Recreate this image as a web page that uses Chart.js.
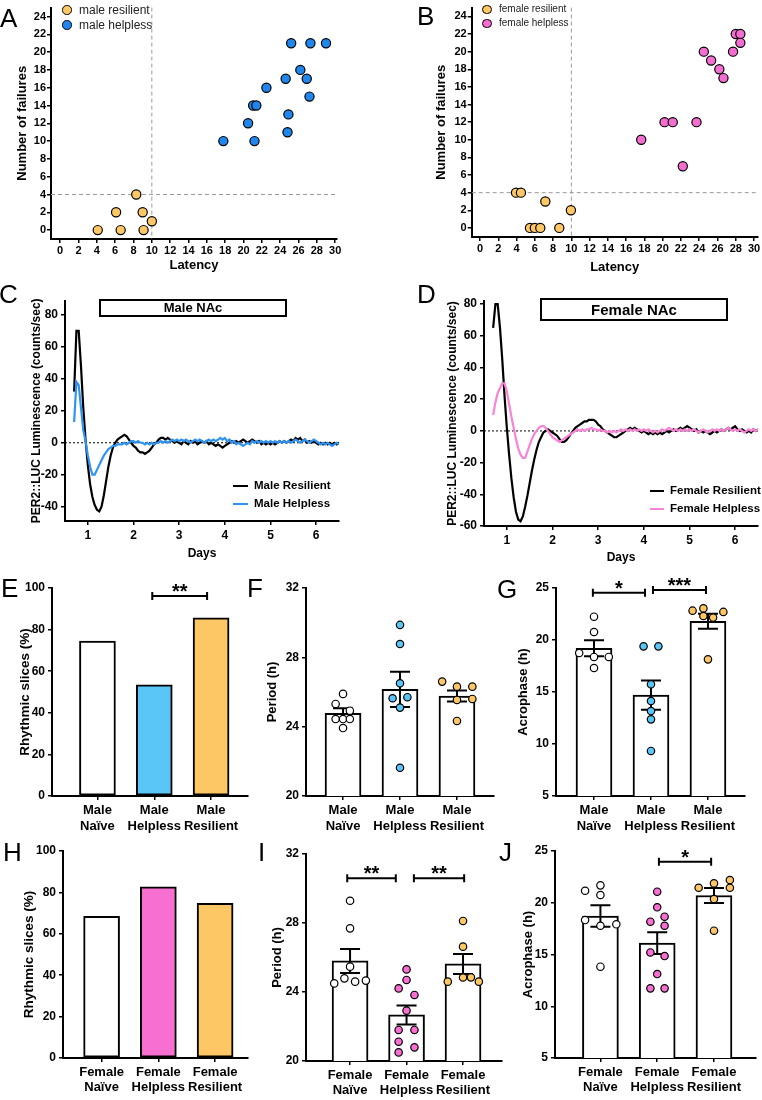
<!DOCTYPE html>
<html>
<head>
<meta charset="utf-8">
<script src="https://cdn.jsdelivr.net/npm/chart.js@4.4.0/dist/chart.umd.min.js"></script>
<style>
  body { margin: 0; background: #fff; }
  #fig { position: relative; width: 762px; height: 1100px; overflow: hidden; }
  #fig canvas { position: absolute; }
</style>
</head>
<body>
<div id="fig">
  <canvas id="cA" width="381" height="280" style="left:0;top:0"></canvas>
  <canvas id="cB" width="381" height="280" style="left:381px;top:0"></canvas>
  <canvas id="cC" width="381" height="295" style="left:0;top:270px"></canvas>
  <canvas id="cD" width="381" height="300" style="left:381px;top:270px"></canvas>
  <canvas id="cE" width="254" height="280" style="left:0;top:560px"></canvas>
  <canvas id="cF" width="254" height="280" style="left:254px;top:560px"></canvas>
  <canvas id="cG" width="254" height="280" style="left:508px;top:560px"></canvas>
  <canvas id="cH" width="254" height="260" style="left:0;top:840px"></canvas>
  <canvas id="cI" width="254" height="260" style="left:254px;top:840px"></canvas>
  <canvas id="cJ" width="254" height="260" style="left:508px;top:840px"></canvas>
</div>
<script>
// ---- data: learned helplessness scatter (A, B) ----
const latencyTicks = [0, 2, 4, 6, 8, 10, 12, 14, 16, 18, 20, 22, 24, 26, 28, 30];
const failureTicks = [0, 2, 4, 6, 8, 10, 12, 14, 16, 18, 20, 22, 24];
const latencyCutoff = 10;
const failureCutoff = 4;

const maleResLatency = [4.1, 6.1, 6.6, 8.3, 9.0, 9.1, 10.0];
const maleResFailures = [0, 2, 0, 4, 2, 0, 1];
const maleHelLatency = [17.8, 20.5, 21.05, 21.4, 21.2, 22.5, 24.6, 24.8, 24.9, 25.2, 26.2, 26.9, 27.2, 27.3, 29.0];
const maleHelFailures = [10, 12, 14, 14, 10, 16, 17, 11, 13, 21, 18, 17, 15, 21, 21];

const femResLatency = [3.94, 4.48, 7.15, 9.95, 5.47, 6.0, 6.6, 8.68];
const femResFailures = [4, 4, 3, 2, 0, 0, 0, 0];
const femHelLatency = [17.65, 20.2, 21.1, 22.2, 23.7, 24.5, 25.3, 26.2, 26.65, 27.7, 28.0, 28.5, 28.5];
const femHelFailures = [10, 12, 12, 7, 12, 20, 19, 18, 17, 20, 22, 22, 21];

// ---- data: PER2::LUC traces (C, D) ----
const dayTicks = [1, 2, 3, 4, 5, 6];
const lumTicksMale = [-40, -20, 0, 20, 40, 60, 80];
const lumTicksFemale = [-60, -40, -20, 0, 20, 40, 60, 80];
const days = [
  0.70, 0.75, 0.80, 0.85, 0.90, 0.95, 1.00, 1.05, 1.10, 1.15, 1.20, 1.25, 1.30, 1.35, 1.40, 1.45, 1.50, 1.55, 1.60, 1.65,
  1.70, 1.75, 1.80, 1.85, 1.90, 1.95, 2.00, 2.05, 2.10, 2.15, 2.20, 2.25, 2.30, 2.35, 2.40, 2.45, 2.50, 2.55, 2.60, 2.65,
  2.70, 2.75, 2.80, 2.85, 2.90, 2.95, 3.00, 3.05, 3.10, 3.15, 3.20, 3.25, 3.30, 3.35, 3.40, 3.45, 3.50, 3.55, 3.60, 3.65,
  3.70, 3.75, 3.80, 3.85, 3.90, 3.95, 4.00, 4.05, 4.10, 4.15, 4.20, 4.25, 4.30, 4.35, 4.40, 4.45, 4.50, 4.55, 4.60, 4.65,
  4.70, 4.75, 4.80, 4.85, 4.90, 4.95, 5.00, 5.05, 5.10, 5.15, 5.20, 5.25, 5.30, 5.35, 5.40, 5.45, 5.50, 5.55, 5.60, 5.65,
  5.70, 5.75, 5.80, 5.85, 5.90, 5.95, 6.00, 6.05, 6.10, 6.15, 6.20, 6.25, 6.30, 6.35, 6.40, 6.45, 6.50
];
const maleResilientLum = [
  32, 70, 70, 48, 22, 2, -14, -26, -34, -39, -42, -43, -40, -33, -24, -15, -8, -3, 0, 2,
  3, 4, 5, 4, 2, 0, -2, -3, -5, -6, -6, -7, -6, -5, -3, -1, 0, 2, 3, 3,
  2, 3, 2, 1, 0, 1, 0, -1, 1, 0, -1, 1, 0, 1, -1, 0, 1, 0, 1, -1,
  0, -1, -2, -1, -2, -3, -2, -1, 0, 1, 0, 1, 0, 1, 2, 1, 0, 1, 2, 1,
  0, 1, -1, 0, -1, 0, -1, 0, -1, 0, 1, 0, 1, 0, 1, 2, 1, 3, 2, 3,
  1, 2, 0, 1, 0, 1, 0, -1, 0, -1, 0, -1, 0, -1, 0, -1, 0
];
const maleHelplessLum = [
  13, 38, 36, 22, 8, 1, -8, -15, -20, -20, -17, -14, -11, -8, -6, -4, -3, -2, -2, -1,
  -1, -1, 0, -1, 0, 1, 1, 0, 1, 0, 0, -1, 0, -1, 0, -1, 0, 0, 1, 0,
  1, 0, 1, 2, 1, 2, 1, 2, 1, 2, 1, 0, 1, 2, 1, 2, 1, 0, 1, 2,
  1, 2, 1, 2, 3, 2, 3, 1, 2, 0, 1, -1, 0, -1, -2, -1, 0, -1, 1, 0,
  1, 0, 1, 0, 1, 0, 1, 0, 1, 0, 1, 0, 1, 0, 1, 0, 1, 2, 1, 0,
  1, 2, 1, 0, 1, 2, 1, 0, -1, 0, -1, 0, -1, -2, -1, 0, -1
];
const femaleResilientLum = [
  65, 80, 80, 65, 45, 22, 2, -15, -30, -42, -51, -56, -57, -54, -48, -41, -33, -25, -18, -12,
  -7, -4, -1, 0, 1, 0, -1, -2, -3, -5, -7, -7, -6, -4, -2, 0, 2, 3, 4, 5,
  6, 6, 7, 7, 7, 6, 4, 3, 1, 0, -1, -2, -3, -4, -4, -3, -2, -1, 0, 1,
  2, 1, 2, 1, 0, -1, 0, -1, -2, -1, -2, -1, -2, -1, -2, -1, 0, -1, 0, 1,
  0, 1, 2, 1, 2, 3, 2, 1, 0, 1, -1, 0, -1, 0, -1, -2, -1, 0, -1, 0,
  1, 0, 1, 2, 1, 2, 3, 1, 0, 1, 0, -1, 0, -1, 1, 0, 1
];
const femaleHelplessLum = [
  10, 18, 24, 27, 30, 30, 25, 17, 9, 2, -5, -11, -15, -17, -17, -13, -9, -5, -2, 0,
  2, 3, 3, 2, 0, -2, -4, -5, -6, -7, -6, -5, -4, -3, -2, -1, 0, 1, 0, 1,
  0, 1, 1, 2, 1, 1, 0, 1, 0, 0, -1, 0, -1, 0, -1, 0, 1, 0, 1, 0,
  1, 0, 1, 0, 1, 0, 1, 0, 1, 0, -1, 0, -1, 0, 1, 0, 1, 2, 1, 0,
  1, 0, 1, 0, 1, 0, 1, 0, 1, 0, -1, 0, 1, 0, -1, 0, 1, 0, 1, 0,
  1, 0, 1, 2, 1, 0, 1, 0, 1, 0, -1, 0, 1, 0, 1, 0, 1
];

// ---- data: rhythm summaries (E-J) ----
const maleGroups = [['Male', 'Naïve'], ['Male', 'Helpless'], ['Male', 'Resilient']];
const femaleGroups = [['Female', 'Naïve'], ['Female', 'Helpless'], ['Female', 'Resilient']];
const pctTicks = [0, 20, 40, 60, 80, 100];
const periodTicks = [20, 24, 28, 32];
const acroTicks = [5, 10, 15, 20, 25];

const maleRhythmic = [74.5, 53.5, 85.7];
const femaleRhythmic = [68.5, 82.7, 74.7];

const malePeriodMean = [24.77, 26.15, 25.77];
const malePeriodSem = [0.29, 1.02, 0.32];
const malePeriodNaive = [25.89, 25.31, 24.92, 24.44, 24.44, 24.44, 23.92];
const malePeriodNaiveX = [0, -0.13, 0.12, -0.13, 0, 0.12, 0];
const malePeriodHelpless = [29.87, 28.77, 26.5, 25.64, 25.7, 25.1, 21.63];
const malePeriodHelplessX = [0, 0, 0, -0.13, 0.13, 0, 0];
const malePeriodResilient = [26.6, 26.31, 26.31, 25.54, 25.6, 24.33];
const malePeriodResilientX = [-0.26, 0, 0.27, 0, 0.27, 0];

const maleAcroMean = [19.2, 14.7, 21.8];
const maleAcroSem = [0.77, 1.41, 0.72];
const maleAcroNaive = [22.24, 20.77, 18.75, 18.37, 18.37, 17.31];
const maleAcroNaiveX = [0, 0, -0.26, 0, 0.26, 0];
const maleAcroHelpless = [19.39, 19.39, 15.74, 14.13, 13.17, 12.37, 9.33];
const maleAcroHelplessX = [-0.13, 0.13, 0, 0, 0, 0, 0];
const maleAcroResilient = [22.82, 23.04, 22.31, 22.16, 22.7, 18.14];
const maleAcroResilientX = [-0.27, -0.08, -0.08, 0.09, 0.27, 0];

const femPeriodMean = [25.8, 22.67, 25.63];
const femPeriodSem = [0.7, 0.55, 0.58];
const femPeriodNaive = [29.29, 27.69, 25.47, 24.5, 24.79, 24.6, 24.66];
const femPeriodNaiveX = [0, 0, 0, -0.28, -0.1, 0.09, 0.28];
const femPeriodHelpless = [25.31, 24.21, 24.7, 23.83, 22.92, 21.8, 21.8, 21.12, 20.79, 20.5];
const femPeriodHelplessX = [0, -0.14, 0, 0.14, 0, -0.14, 0.14, -0.14, 0.14, -0.14];
const femPeriodResilient = [28.12, 26.63, 24.6, 24.84, 24.85, 24.6];
const femPeriodResilientX = [0, 0, -0.27, 0, 0.14, 0.28];

const femAcroMean = [18.72, 16.1, 20.7];
const femAcroSem = [1.05, 1.05, 0.72];
const femAcroNaive = [21.16, 21.68, 20.75, 18.33, 17.78, 17.92, 13.82];
const femAcroNaiveX = [-0.27, 0, 0, -0.27, 0, 0.28, 0];
const femAcroHelpless = [21.07, 19.56, 18.17, 18.65, 17.78, 15.2, 14.85, 13.11, 11.73, 11.73];
const femAcroHelplessX = [0, 0, -0.12, 0.13, 0.13, -0.12, 0.13, 0, -0.12, 0.13];
const femAcroResilient = [21.45, 21.87, 22.2, 21.45, 20.36, 17.3];
const femAcroResilientX = [-0.27, 0, 0.28, 0.28, 0, 0];

// ---- styling ----
const FONT = "'Liberation Sans', Arial, Helvetica, sans-serif";
const WHITE = '#ffffff';
const ORANGE = '#fdc765';
const BLUE_A = '#1f86ee';
const PINK_B = '#f56dd1';
const BLUE_C = '#2e93f2';
const PINK_D = '#f983d5';
const SKY = '#5ac6f8';
const PINK = '#f76fd0';

Chart.defaults.font.family = FONT;
const bold = size => ({ family: FONT, size: size, weight: 'bold' });

// error bars drawn right after the bar dataset, under the dots
Chart.register({
  id: 'errorBars',
  afterDatasetDraw(chart, args) {
    const ds = chart.data.datasets[args.index];
    if (!ds.sem) return;
    const { ctx, scales: { x, y } } = chart;
    ctx.save();
    ctx.strokeStyle = '#000';
    ctx.lineWidth = 2;
    ds.data.forEach((d, i) => {
      const px = x.getPixelForValue(d.x);
      const hi = y.getPixelForValue(d.y + ds.sem[i]);
      const lo = y.getPixelForValue(d.y - ds.sem[i]);
      ctx.beginPath();
      ctx.moveTo(px, hi); ctx.lineTo(px, lo);
      ctx.moveTo(px - 10, hi); ctx.lineTo(px + 10, hi);
      ctx.moveTo(px - 10, lo); ctx.lineTo(px + 10, lo);
      ctx.stroke();
    });
    ctx.restore();
  }
});

function bracketPlugin(list) {
  return {
    id: 'brackets',
    afterDraw(chart) {
      const { ctx, scales: { x, y } } = chart;
      ctx.save();
      ctx.strokeStyle = '#000';
      ctx.fillStyle = '#000';
      ctx.lineWidth = 2;
      ctx.font = 'bold 20px ' + FONT;
      ctx.textAlign = 'center';
      ctx.textBaseline = 'alphabetic';
      list.forEach(b => {
        const x1 = x.getPixelForValue(b.from), x2 = x.getPixelForValue(b.to), py = y.getPixelForValue(b.y);
        ctx.beginPath();
        ctx.moveTo(x1, py); ctx.lineTo(x2, py);
        ctx.moveTo(x1, py - 4); ctx.lineTo(x1, py + 4);
        ctx.moveTo(x2, py - 4); ctx.lineTo(x2, py + 4);
        ctx.stroke();
        ctx.fillText(b.text, (x1 + x2) / 2, py + 2);
      });
      ctx.restore();
    }
  };
}

function cutoffPlugin(xv, yv) {
  return {
    id: 'cutoffs',
    beforeDatasetsDraw(chart) {
      const { ctx, chartArea: a, scales: { x, y } } = chart;
      const px = x.getPixelForValue(xv), py = y.getPixelForValue(yv);
      ctx.save();
      ctx.strokeStyle = '#9a9a9a';
      ctx.lineWidth = 1;
      ctx.setLineDash([4, 3]);
      ctx.beginPath();
      ctx.moveTo(px, a.top); ctx.lineTo(px, a.bottom);
      ctx.moveTo(a.left, py); ctx.lineTo(a.right, py);
      ctx.stroke();
      ctx.restore();
    }
  };
}

const zeroLine = {
  id: 'zeroLine',
  beforeDatasetsDraw(chart) {
    const { ctx, chartArea: a, scales: { y } } = chart;
    const py = y.getPixelForValue(0);
    ctx.save();
    ctx.strokeStyle = '#000';
    ctx.lineWidth = 1;
    ctx.setLineDash([2, 2]);
    ctx.beginPath();
    ctx.moveTo(a.left, py); ctx.lineTo(a.right, py);
    ctx.stroke();
    ctx.restore();
  }
};

function axis(o, fit) {
  return {
    type: 'linear', offset: false, min: o.min, max: o.max,
    border: { display: true, color: '#000', width: 2 },
    grid: { display: true, drawOnChartArea: false, drawTicks: true, tickLength: 4, color: '#000', lineWidth: 1.5, offset: false },
    ticks: {
      color: '#000', font: bold(o.size), padding: o.pad, autoSkip: false, maxRotation: 0, minRotation: 0,
      callback: o.labels ? (v => o.labels[v]) : (v => v)
    },
    afterBuildTicks: s => { s.ticks = o.ticks.map(v => ({ value: v })); },
    afterFit: fit,
    title: o.title
      ? { display: true, text: o.title, color: '#000', font: bold(o.tsize), padding: o.tpad }
      : { display: false }
  };
}

function makeChart(id, p, datasets, plugins) {
  const [l, t, r, b] = p.area;
  return new Chart(document.getElementById(id), {
    type: 'scatter',
    data: { datasets: datasets },
    options: {
      responsive: false, animation: false, events: [],
      layout: { autoPadding: false, padding: { left: 0, top: t, right: p.w - r, bottom: 0 } },
      plugins: { legend: { display: false }, tooltip: { enabled: false } },
      scales: {
        x: axis(p.x, s => { s.height = p.h - b; }),
        y: axis(p.y, s => { s.width = l; })
      }
    },
    plugins: plugins || []
  });
}

const pairs = (xs, ys) => xs.map((x, i) => ({ x: x, y: ys[i] }));

function scatterSet(xs, ys, color) {
  return {
    data: pairs(xs, ys), pointRadius: 4.6, pointBorderWidth: 1.2,
    pointBorderColor: '#000', pointBackgroundColor: color, order: 0
  };
}

function traceSet(ys, color, order) {
  return {
    type: 'line', data: pairs(days, ys), borderColor: color, borderWidth: 2.2,
    pointRadius: 0, tension: 0, order: order
  };
}

function barSet(vals, colors, sem) {
  return {
    type: 'bar', data: vals.map((v, i) => ({ x: i, y: v })), backgroundColor: colors,
    borderColor: '#000', borderWidth: 2, borderSkipped: false, barThickness: 36, order: 2, sem: sem
  };
}

function dotSet(cat, vals, offs, color) {
  return {
    data: vals.map((v, i) => ({ x: cat + offs[i], y: v })), pointRadius: 3.7, pointBorderWidth: 1.2,
    pointBorderColor: '#000', pointBackgroundColor: color, order: 0
  };
}

// A
makeChart('cA', {
  w: 381, h: 280, area: [51, 3, 337, 239],
  x: { min: -1, max: 30.2, ticks: latencyTicks, size: 11, pad: 1, title: 'Latency', tsize: 13, tpad: { top: 0, bottom: 7.2 } },
  y: { min: -1, max: 25, ticks: failureTicks, size: 11, pad: 1, title: 'Number of failures', tsize: 13, tpad: { top: 14.2, bottom: 0 } }
}, [
  scatterSet(maleResLatency, maleResFailures, ORANGE),
  scatterSet(maleHelLatency, maleHelFailures, BLUE_A)
], [cutoffPlugin(latencyCutoff, failureCutoff)]);

// B
makeChart('cB', {
  w: 381, h: 280, area: [90.7, 2, 376.7, 237],
  x: { min: -0.91, max: 30.4, ticks: latencyTicks, size: 11, pad: 1, title: 'Latency', tsize: 13, tpad: { top: 0, bottom: 5.2 } },
  y: { min: -1.03, max: 25, ticks: failureTicks, size: 11, pad: 1, title: 'Number of failures', tsize: 13, tpad: { top: 52.2, bottom: 0 } }
}, [
  scatterSet(femResLatency, femResFailures, ORANGE),
  scatterSet(femHelLatency, femHelFailures, PINK_B)
], [cutoffPlugin(latencyCutoff, failureCutoff)]);

// C
makeChart('cC', {
  w: 381, h: 295, area: [65, 30.6, 339, 251],
  x: { min: 0.5, max: 6.5, ticks: dayTicks, size: 12, pad: 3, title: 'Days', tsize: 12, tpad: { top: 0, bottom: 3.8 } },
  y: { min: -49, max: 89, ticks: lumTicksMale, size: 12, pad: 3, title: 'PER2::LUC Luminescence (counts/sec)', tsize: 12, tpad: { top: 29.8, bottom: 0 } }
}, [
  traceSet(maleHelplessLum, BLUE_C, 0),
  traceSet(maleResilientLum, '#000', 1)
], [zeroLine]);

// D
makeChart('cD', {
  w: 381, h: 300, area: [103, 31, 377, 256],
  x: { min: 0.5, max: 6.5, ticks: dayTicks, size: 12, pad: 3, title: 'Days', tsize: 12, tpad: { top: 0, bottom: 4.8 } },
  y: { min: -60, max: 82, ticks: lumTicksFemale, size: 12, pad: 3, title: 'PER2::LUC Luminescence (counts/sec)', tsize: 12, tpad: { top: 64.8, bottom: 0 } }
}, [
  traceSet(femaleHelplessLum, PINK_D, 0),
  traceSet(femaleResilientLum, '#000', 1)
], [zeroLine]);

// E
makeChart('cE', {
  w: 254, h: 280, area: [52, 28, 248, 236],
  x: { min: -0.8, max: 2.65, ticks: [0, 1, 2], labels: maleGroups, size: 13, pad: 3 },
  y: { min: 0, max: 100, ticks: pctTicks, size: 12, pad: 3, title: 'Rhythmic slices (%)', tsize: 13.5, tpad: { top: 16.9, bottom: 0 } }
}, [
  barSet(maleRhythmic, [WHITE, SKY, ORANGE])
], [bracketPlugin([{ from: 0.965, to: 1.93, y: 96.2, text: '**' }])]);

// F
makeChart('cF', {
  w: 254, h: 280, area: [52, 28, 240, 236],
  x: { min: -0.65, max: 2.65, ticks: [0, 1, 2], labels: maleGroups, size: 13, pad: 3 },
  y: { min: 20, max: 32, ticks: periodTicks, size: 12, pad: 3, title: 'Period (h)', tsize: 13, tpad: { top: 10.2, bottom: 0 } }
}, [
  barSet(malePeriodMean, [WHITE, WHITE, WHITE], malePeriodSem),
  dotSet(0, malePeriodNaive, malePeriodNaiveX, WHITE),
  dotSet(1, malePeriodHelpless, malePeriodHelplessX, SKY),
  dotSet(2, malePeriodResilient, malePeriodResilientX, ORANGE)
]);

// G
makeChart('cG', {
  w: 254, h: 280, area: [48, 28, 237, 236],
  x: { min: -0.667, max: 2.65, ticks: [0, 1, 2], labels: maleGroups, size: 13, pad: 3 },
  y: { min: 5, max: 25, ticks: acroTicks, size: 12, pad: 3, title: 'Acrophase (h)', tsize: 13, tpad: { top: 7.2, bottom: 0 } }
}, [
  barSet(maleAcroMean, [WHITE, WHITE, WHITE], maleAcroSem),
  dotSet(0, maleAcroNaive, maleAcroNaiveX, WHITE),
  dotSet(1, maleAcroHelpless, maleAcroHelplessX, SKY),
  dotSet(2, maleAcroResilient, maleAcroResilientX, ORANGE)
], [bracketPlugin([
  { from: -0.02, to: 0.895, y: 24.55, text: '*' },
  { from: 1.035, to: 1.965, y: 24.8, text: '***' }
])]);

// H
makeChart('cH', {
  w: 254, h: 260, area: [63, 11, 248, 218],
  x: { min: -0.68, max: 2.58, ticks: [0, 1, 2], labels: femaleGroups, size: 13, pad: 2.2 },
  y: { min: 0, max: 100, ticks: pctTicks, size: 12, pad: 3, title: 'Rhythmic slices (%)', tsize: 13.5, tpad: { top: 20.9, bottom: 0 } }
}, [
  barSet(femaleRhythmic, [WHITE, PINK, ORANGE])
]);

// I
makeChart('cI', {
  w: 254, h: 260, area: [52, 14, 248, 221],
  x: { min: -0.78, max: 2.69, ticks: [0, 1, 2], labels: femaleGroups, size: 13, pad: 2.2 },
  y: { min: 20, max: 32, ticks: periodTicks, size: 12, pad: 3, title: 'Period (h)', tsize: 13, tpad: { top: 15.2, bottom: 0 } }
}, [
  barSet(femPeriodMean, [WHITE, WHITE, WHITE], femPeriodSem),
  dotSet(0, femPeriodNaive, femPeriodNaiveX, WHITE),
  dotSet(1, femPeriodHelpless, femPeriodHelplessX, PINK),
  dotSet(2, femPeriodResilient, femPeriodResilientX, ORANGE)
], [bracketPlugin([
  { from: -0.05, to: 0.81, y: 30.59, text: '**' },
  { from: 1.13, to: 2.02, y: 30.59, text: '**' }
])]);

// J
makeChart('cJ', {
  w: 254, h: 260, area: [47, 11, 248, 218],
  x: { min: -0.8, max: 2.74, ticks: [0, 1, 2], labels: femaleGroups, size: 13, pad: 2.2 },
  y: { min: 5, max: 25, ticks: acroTicks, size: 12, pad: 3, title: 'Acrophase (h)', tsize: 13, tpad: { top: 12.2, bottom: 0 } }
}, [
  barSet(femAcroMean, [WHITE, WHITE, WHITE], femAcroSem),
  dotSet(0, femAcroNaive, femAcroNaiveX, WHITE),
  dotSet(1, femAcroHelpless, femAcroHelplessX, PINK),
  dotSet(2, femAcroResilient, femAcroResilientX, ORANGE)
], [bracketPlugin([{ from: 1.03, to: 1.95, y: 23.97, text: '*' }])]);

// ---- overlays: panel letters, legends, region boxes ----
const fig = document.getElementById('fig');

function addText(x, cy, text, size, weight, color) {
  const d = document.createElement('div');
  d.textContent = text;
  d.style.cssText = `position:absolute;left:${x}px;top:${cy - size * 0.52}px;font:${weight} ${size}px/${size}px ${FONT};color:${color || '#000'};white-space:nowrap`;
  fig.appendChild(d);
}
function addLetter(x, capMid, text) {
  const d = document.createElement('div');
  d.textContent = text;
  d.style.cssText = `position:absolute;left:${x}px;top:${capMid - 26 * 0.49}px;font:normal 26px/26px ${FONT};color:#000`;
  fig.appendChild(d);
}
function addDot(cx, cy, color) {
  const d = document.createElement('div');
  d.style.cssText = `position:absolute;left:${cx - 4.7}px;top:${cy - 4.7}px;width:9.4px;height:9.4px;box-sizing:border-box;border:1.2px solid #000;border-radius:50%;background:${color}`;
  fig.appendChild(d);
}
function addSeg(x1, x2, cy, color) {
  const d = document.createElement('div');
  d.style.cssText = `position:absolute;left:${x1}px;top:${cy - 1.25}px;width:${x2 - x1}px;height:2.5px;background:${color}`;
  fig.appendChild(d);
}
function addBox(left, top, w, h, text, size) {
  const d = document.createElement('div');
  d.textContent = text;
  d.style.cssText = `position:absolute;left:${left}px;top:${top}px;width:${w}px;height:${h}px;box-sizing:border-box;border:2px solid #000;font:bold ${size}px/${h - 4}px ${FONT};text-align:center;color:#000`;
  fig.appendChild(d);
}

addLetter(0, 18, 'A');
addLetter(417, 16, 'B');
addLetter(-1, 294, 'C');
addLetter(417, 294, 'D');
addLetter(1, 588, 'E');
addLetter(247, 588, 'F');
addLetter(497, 589, 'G');
addLetter(3, 852, 'H');
addLetter(258, 852, 'I');
addLetter(499, 852, 'J');

addDot(67, 10, ORANGE); addText(79, 10, 'male resilient', 12, 'normal', '#222');
addDot(67, 25, BLUE_A); addText(79, 25, 'male helpless', 12, 'normal', '#222');
addDot(487, 9.3, ORANGE); addText(499, 9.3, 'female resilient', 10, 'normal', '#222');
addDot(487, 23.3, PINK_B); addText(499, 23.3, 'female helpless', 10, 'normal', '#222');

addBox(99, 299, 188, 18, 'Male NAc', 13);
addBox(540, 298, 188, 23, 'Female NAc', 15);

addSeg(233, 248, 486, '#000'); addText(254, 486, 'Male Resilient', 11.5, 'bold');
addSeg(233, 248, 504, BLUE_C); addText(254, 504, 'Male Helpless', 11.5, 'bold');
addSeg(650, 664, 491, '#000'); addText(670, 491, 'Female Resilient', 11.5, 'bold');
addSeg(650, 664, 509, PINK_D); addText(670, 509, 'Female Helpless', 11.5, 'bold');
</script>
</body>
</html>
